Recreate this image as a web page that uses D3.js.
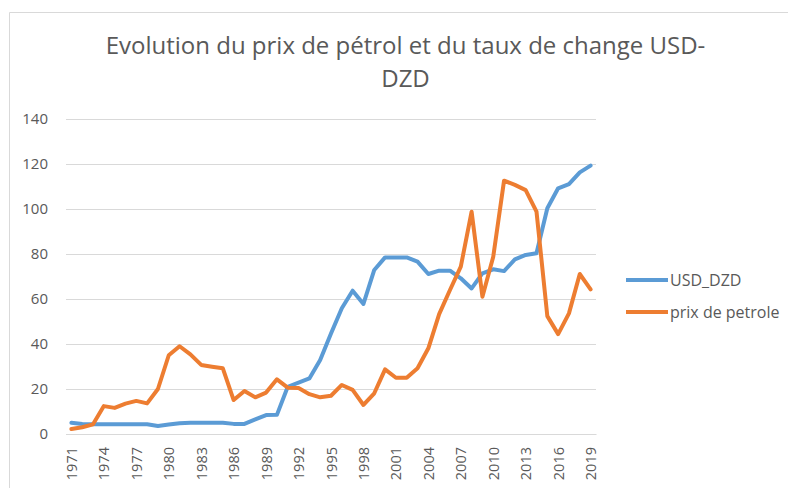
<!DOCTYPE html>
<html>
<head>
<meta charset="utf-8">
<script src="https://cdn.jsdelivr.net/npm/d3@7"></script>
<style>
  body { margin: 0; background: #fff; overflow: hidden; }
  svg { display: block; }
  text { font-family: "Open Sans", sans-serif; fill: #595959; }
</style>
</head>
<body>
<svg id="chart" width="788" height="488"></svg>
<script>
// data
const years = [1971, 1972, 1973, 1974, 1975, 1976, 1977, 1978, 1979, 1980,
  1981, 1982, 1983, 1984, 1985, 1986, 1987, 1988, 1989, 1990,
  1991, 1992, 1993, 1994, 1995, 1996, 1997, 1998, 1999, 2000,
  2001, 2002, 2003, 2004, 2005, 2006, 2007, 2008, 2009, 2010,
  2011, 2012, 2013, 2014, 2015, 2016, 2017, 2018, 2019];

const usdDzd = [5.0, 4.4, 4.3, 4.3, 4.3, 4.3, 4.3, 4.3, 3.6, 4.2,
  4.8, 5.0, 5.0, 5.0, 5.0, 4.5, 4.5, 6.5, 8.4, 8.5,
  21.0, 22.8, 24.7, 32.9, 44.7, 55.9, 63.7, 57.8, 72.9, 78.5,
  78.5, 78.5, 76.6, 71.1, 72.6, 72.6, 69.2, 64.7, 71.4, 73.2,
  72.4, 77.6, 79.6, 80.3, 100.3, 109.2, 111.1, 116.3, 119.3];

const oilPrice = [2.2, 3.0, 4.3, 12.4, 11.6, 13.5, 14.7, 13.6, 20.0, 35.0,
  39.0, 35.4, 30.7, 29.9, 29.2, 15.1, 19.1, 16.3, 18.4, 24.3,
  20.6, 20.4, 17.7, 16.3, 17.0, 21.8, 19.6, 12.9, 18.1, 28.7,
  25.0, 25.0, 29.2, 38.1, 53.3, 64.0, 74.4, 98.8, 61.0, 78.8,
  112.6, 110.7, 108.4, 98.8, 52.4, 44.4, 53.6, 71.1, 64.3];

const yTicks = [0, 20, 40, 60, 80, 100, 120, 140];
const xTickYears = [1971, 1974, 1977, 1980, 1983, 1986, 1989, 1992, 1995,
  1998, 2001, 2004, 2007, 2010, 2013, 2016, 2019];

const seriesNames = ['USD_DZD', 'prix de petrole'];
const colors = ['#5B9BD5', '#ED7D31'];
const titleLines = ['Evolution du prix de pétrol et du taux de change USD-', 'DZD'];

const svg = d3.select('#chart');
const width = +svg.attr('width');
const height = +svg.attr('height');

// chart area border: only top and left edges are inside the picture
svg.append('path')
    .attr('d', 'M9.5,' + height + 'V12.5H' + width)
    .attr('fill', 'none')
    .attr('stroke', '#d9d9d9');

// title
const title = svg.append('text')
    .attr('text-anchor', 'middle')
    .style('font-size', '24px');
title.selectAll('tspan')
    .data(titleLines)
    .enter()
    .append('tspan')
    .attr('x', 405.5)
    .attr('y', (d, i) => 54 + i * 32.5)
    .text(d => d);

const margin = { top: 119, right: 192, bottom: 54, left: 66 };
const innerWidth = width - margin.left - margin.right;
const innerHeight = height - margin.top - margin.bottom;

const g = svg.append('g')
    .attr('transform', 'translate(' + margin.left + ',' + margin.top + ')');

const xScale = d3.scalePoint()
    .domain(years)
    .range([0, innerWidth])
    .padding(0.5);

const yScale = d3.scaleLinear()
    .domain([0, 140])
    .range([innerHeight, 0]);

// gridlines
g.append('g')
    .call(d3.axisLeft(yScale)
        .tickValues(yTicks)
        .tickSize(-innerWidth)
        .tickPadding(18))
    .call(a => a.select('.domain').remove())
    .call(a => a.selectAll('line').attr('stroke', '#d9d9d9'))
    .call(a => a.selectAll('text')
        .style('font-size', '15px')
        .attr('fill', '#595959')
        .style('font-family', '"Open Sans", sans-serif'));

// x axis
g.append('g')
    .attr('transform', 'translate(0,' + innerHeight + ')')
    .call(d3.axisBottom(xScale).tickValues(xTickYears).tickSize(0))
    .call(a => a.select('.domain').attr('stroke', '#d9d9d9'))
    .selectAll('text')
    .style('font-size', '14.5px')
    .style('font-family', '"Open Sans", sans-serif')
    .attr('fill', '#595959')
    .style('text-anchor', 'end')
    .attr('x', -13)
    .attr('y', 0)
    .attr('dy', '0.35em')
    .attr('transform', 'rotate(-90)');

// lines
const line = d3.line()
    .x((d, i) => xScale(years[i]))
    .y(d => yScale(d));

[usdDzd, oilPrice].forEach((values, k) => {
  g.append('path')
      .datum(values)
      .attr('fill', 'none')
      .attr('stroke', colors[k])
      .attr('stroke-width', 4)
      .attr('stroke-linejoin', 'round')
      .attr('stroke-linecap', 'round')
      .attr('d', line);
});

// legend
const legend = svg.append('g')
    .attr('transform', 'translate(626,280)');

const item = legend.selectAll('g')
    .data(seriesNames)
    .enter()
    .append('g')
    .attr('transform', (d, i) => 'translate(0,' + i * 32 + ')');

item.append('line')
    .attr('x1', 0)
    .attr('x2', 42)
    .attr('stroke', (d, i) => colors[i])
    .attr('stroke-width', 4);

item.append('text')
    .attr('x', 44)
    .attr('dy', '0.35em')
    .style('font-size', '16px')
    .text(d => d);
</script>
</body>
</html>
